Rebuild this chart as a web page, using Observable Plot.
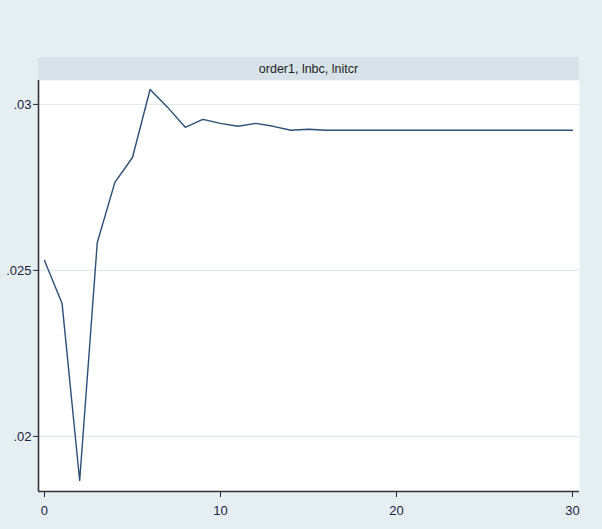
<!DOCTYPE html>
<html>
<head>
<meta charset="utf-8">
<script src="https://cdn.jsdelivr.net/npm/d3@7"></script>
<script src="https://cdn.jsdelivr.net/npm/@observablehq/plot@0.6"></script>
<style>
  html, body { margin: 0; padding: 0; background: #e5eff1; overflow: hidden; }
  #chart svg { display: block; }
</style>
</head>
<body>
<div id="chart"></div>
<script>
const panelTitle = "order1, lnbc, lnitcr";
const xTitle = "step";
const steps = [0,1,2,3,4,5,6,7,8,9,10,11,12,13,14,15,16,17,18,19,20,21,22,23,24,25,26,27,28,29,30];
const irf = [0.0253,0.0240,0.01867,0.02584,0.02765,0.0284,0.03045,0.02991,0.02931,0.02955,
             0.02943,0.02934,0.02943,0.02934,0.02922,0.02925,0.02922,0.02922,0.02922,0.02922,
             0.02922,0.02922,0.02922,0.02922,0.02922,0.02922,0.02922,0.02922,0.02922,0.02922,0.02922];
const xTicks = [0,10,20,30];
const yTicks = [0.02,0.025,0.03];
const xDomain = [-0.34, 30.4];
const yDomain = [0.01834, 0.03072];

const data = steps.map((s, i) => ({step: s, value: irf[i]}));
const fmtY = d => d3.format(".3~f")(d).replace(/^0/, "");

const W = 602, H = 529;
const mL = 38, mR = 23, mT = 80, mB = 38;

const chart = Plot.plot({
  width: W, height: H,
  marginLeft: mL, marginRight: mR, marginTop: mT, marginBottom: mB,
  style: {background: "#e5eff1", fontFamily: "'Liberation Sans', Arial, sans-serif", fontSize: "13px", color: "#1c2340"},
  x: {domain: xDomain, ticks: xTicks, tickSize: 6, tickPadding: 8, label: null, tickFormat: d3.format("d")},
  y: {domain: yDomain, ticks: yTicks, tickSize: 5, tickPadding: 2, label: null, tickFormat: fmtY},
  marks: [
    Plot.frame({fill: "white", stroke: null}),
    Plot.gridY(yTicks, {stroke: "#d8e8ee", strokeOpacity: 1, strokeWidth: 1}),
    Plot.line(data, {x: "step", y: "value", stroke: "#2b4f78", strokeWidth: 1.4}),
    Plot.ruleX([xDomain[0]], {stroke: "#333", strokeWidth: 1.6}),
    Plot.ruleY([yDomain[0]], {stroke: "#333", strokeWidth: 1.6})
  ]
});

// Panel header band (Stata by-graph style subtitle box)
const svg = d3.select(chart);
const band = svg.insert("g", ":first-child");
band.append("rect")
  .attr("x", mL).attr("y", 57).attr("width", W - mL - mR).attr("height", mT - 57)
  .attr("fill", "#d7e3e8");
svg.append("text")
  .attr("x", mL + (W - mL - mR) / 2).attr("y", 73)
  .attr("text-anchor", "middle")
  .attr("font-family", "'Liberation Sans', Arial, sans-serif")
  .attr("font-size", 12.5)
  .attr("fill", "#222")
  .text(panelTitle);
svg.append("text")
  .attr("x", 289).attr("y", 538)
  .attr("text-anchor", "middle")
  .attr("font-family", "'Liberation Sans', Arial, sans-serif")
  .attr("font-size", 13)
  .attr("fill", "#222")
  .text(xTitle);

document.getElementById("chart").appendChild(chart);
</script>
</body>
</html>
